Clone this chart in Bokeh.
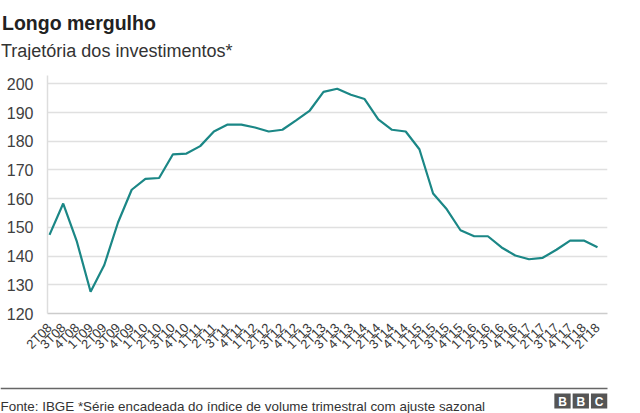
import math
from bokeh.plotting import figure
from bokeh.layouts import column
from bokeh.models import FixedTicker, Range1d, ColumnDataSource
from bokeh.core.properties import value
from bokeh.embed import file_html
from bokeh.resources import INLINE

title_text = "Longo mergulho"
subtitle_text = "Trajetória dos investimentos*"
footer_text = "Fonte: IBGE *Série encadeada do índice de volume trimestral com ajuste sazonal"
logo_letters = ["B", "B", "C"]

quarters = ["2T08", "3T08", "4T08",
            "1T09", "2T09", "3T09", "4T09",
            "1T10", "2T10", "3T10", "4T10",
            "1T11", "2T11", "3T11", "4T11",
            "1T12", "2T12", "3T12", "4T12",
            "1T13", "2T13", "3T13", "4T13",
            "1T14", "2T14", "3T14", "4T14",
            "1T15", "2T15", "3T15", "4T15",
            "1T16", "2T16", "3T16", "4T16",
            "1T17", "2T17", "3T17", "4T17",
            "1T18", "2T18"]
investment = [147.4, 158.3, 145.0,
              127.6, 136.9, 151.7, 163.1,
              166.9, 167.2, 175.4, 175.7,
              178.3, 183.4, 185.8, 185.8,
              184.8, 183.4, 184.0, 187.3,
              190.7, 197.2, 198.3, 196.2,
              194.7, 187.6, 184.0, 183.4,
              177.2, 161.8, 156.3, 149.0,
              146.9, 146.9, 143.0, 140.2,
              138.9, 139.4, 142.2, 145.4,
              145.4, 143.1]
y_ticks = [120, 130, 140, 150, 160, 170, 180, 190, 200]

FONT = "Liberation Sans"
W = 640
HEAD_H, MAIN_H, FOOT_H = 60, 320, 33


def no_align(f):
    if "frame_align" in f.properties():
        f.frame_align = False


def blank(height):
    f = figure(width=W, height=height, output_backend="svg", toolbar_location=None,
               x_range=Range1d(0, W), y_range=Range1d(height, 0),
               x_axis_type=None, y_axis_type=None, outline_line_color=None,
               min_border=0)
    f.min_border_left = f.min_border_right = f.min_border_top = f.min_border_bottom = 0
    f.background_fill_color = "white"
    f.border_fill_color = "white"
    no_align(f)
    return f


# ---------- header ----------
head = blank(HEAD_H)
head.text(x=[1.5], y=[22.7], text=[title_text], text_font=value(FONT),
          text_font_size="19.5px", text_font_style="bold", text_color="#222222",
          text_baseline="alphabetic", text_align="left")
head.text(x=[0.5], y=[50], text=[subtitle_text], text_font=value(FONT),
          text_font_size="18px", text_color="#333333",
          text_baseline="alphabetic", text_align="left")

# ---------- main chart ----------
src = ColumnDataSource(dict(x=list(range(len(quarters))), y=investment))

p = figure(width=W, height=MAIN_H, output_backend="svg", toolbar_location=None,
           x_range=Range1d(-0.146, 40.73), y_range=Range1d(120, 202.9),
           min_border_left=47, min_border_right=33, min_border_top=15,
           min_border_bottom=67, outline_line_color=None)
p.background_fill_color = "white"
p.border_fill_color = "white"
no_align(p)

p.line("x", "y", source=src, line_color="#1b8786", line_width=2.2)

p.yaxis.ticker = FixedTicker(ticks=y_ticks)
p.yaxis.axis_line_color = "#dddddd"
p.yaxis.axis_line_width = 1.5
p.yaxis.major_tick_line_color = None
p.yaxis.minor_tick_line_color = None
p.yaxis.major_label_standoff = 8
p.yaxis.major_label_text_font = FONT
p.yaxis.major_label_text_font_size = "16px"
p.yaxis.major_label_text_color = "#404040"

p.xaxis.ticker = FixedTicker(ticks=list(range(len(quarters))))
p.xaxis.major_label_overrides = {i: q for i, q in enumerate(quarters)}
p.xaxis.major_label_orientation = math.pi / 4
p.xaxis.axis_line_color = "#cccccc"
p.xaxis.axis_line_width = 1.5
p.xaxis.major_tick_line_color = None
p.xaxis.minor_tick_line_color = None
p.xaxis.major_label_standoff = 6
p.xaxis.major_label_text_font = FONT
p.xaxis.major_label_text_font_size = "13px"
p.xaxis.major_label_text_color = "#383838"

p.xgrid.grid_line_color = None
p.ygrid.grid_line_color = "#e0e0e0"
p.ygrid.grid_line_width = 1.5
p.ygrid.ticker = FixedTicker(ticks=y_ticks)

# ---------- footer ----------
foot = blank(FOOT_H)
foot.segment(x0=[0], y0=[8], x1=[607], y1=[8], line_color="#666666", line_width=1.5)
foot.text(x=[0], y=[26], text=[footer_text], text_font=value(FONT),
          text_font_size="13.4px", text_color="#333333",
          text_baseline="alphabetic", text_align="left")
logo_x = [554 + 8 + i * 18.3 for i in range(len(logo_letters))]
foot.rect(x=logo_x, y=[20.5] * 3, width=16.3, height=15, fill_color="#555555",
          line_color=None)
foot.text(x=logo_x, y=[21] * 3, text=logo_letters, text_font=value(FONT),
          text_font_size="12px", text_font_style="bold", text_color="white",
          text_baseline="middle", text_align="center")

layout = column(head, p, foot, spacing=0)
open("out.html", "w").write(file_html(layout, INLINE))
